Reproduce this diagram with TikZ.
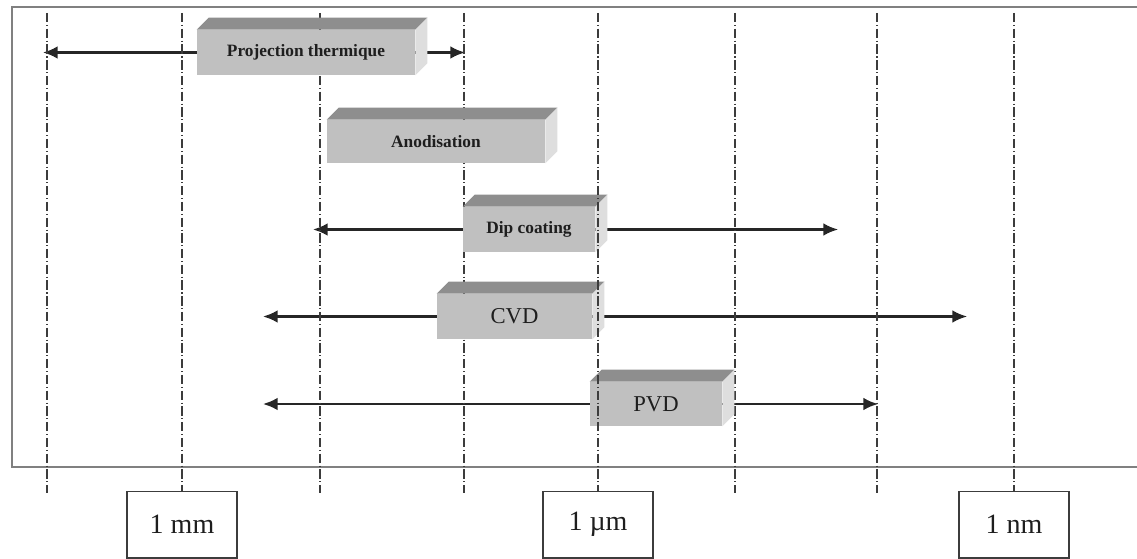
\documentclass[tikz,border=0pt]{standalone}
\usepackage{fontspec}
\setmainfont{Liberation Serif}
\usetikzlibrary{arrows.meta,backgrounds}

\definecolor{boxfront}{RGB}{192,192,192}
\definecolor{boxtop}{RGB}{142,142,142}
\definecolor{boxside}{RGB}{222,222,222}
\definecolor{linegray}{RGB}{60,60,60}
\definecolor{textgray}{RGB}{30,30,30}

\tikzset{
  procbox/.style={fill=boxfront, text=textgray, minimum height=33.75pt, inner sep=0pt,
    font=\bfseries\fontsize{13}{15}\selectfont},
  bigbox/.style={procbox, font=\fontsize{17}{20}\selectfont},
  scalebox/.style={draw=linegray, fill=white, line width=1pt, minimum width=82.5pt,
    minimum height=50pt, text=textgray, font=\fontsize{21}{24}\selectfont},
  gridline/.style={linegray, line width=1.1pt, dash pattern=on 7pt off 2pt on 0.8pt off 2pt},
  spanarrow/.style={black!85, line width=1.6pt, -{Latex[length=11pt,width=9.5pt]}},
}

\begin{document}
\begin{tikzpicture}[x=0.75pt,y=-0.75pt]
\useasboundingbox (0,0) rectangle (1137,559);

% frame
\draw[gray, line width=1.3pt] (1137,7) -- (12,7) -- (12,467) -- (1137,467);

% scale
\node[scalebox] (mm) at (182,524.5) {1 mm};
\node[scalebox] (um) at (598,524.5) {1 µm};
\node[scalebox] (nm) at (1014,524.5) {1 nm};

\foreach \x in {47,320,464,735,877}
  \draw[gridline] (\x,13) -- (\x,493);
\draw[gridline] (182,13) -- (mm.north);
\draw[gridline] (1014,13) -- (nm.north);

% processes
\node[procbox, minimum width=163.5pt] (proj) at (306,52.5) {Projection thermique};
\node[procbox, minimum width=163.5pt, minimum height=32.25pt] (anod) at (436,141.5) {Anodisation};
\node[procbox, minimum width=99pt] (dip) at (529,229.5) {Dip coating};
\node[bigbox, minimum width=116.25pt] (cvd) at (514.5,316.5) {CVD};
\node[bigbox, minimum width=99pt, minimum height=33pt] (pvd) at (656,404) {PVD};

\foreach \n in {proj,anod,dip,cvd,pvd} {
  \fill[boxtop] (\n.north west) -- ++(12,-12) -- ([shift={(12,-12)}]\n.north east)
    -- (\n.north east) -- cycle;
  \fill[boxside] (\n.north east) -- ++(12,-12) -- ([shift={(12,-12)}]\n.south east)
    -- (\n.south east) -- cycle;
}

\draw[gridline] (598,13) -- (um.north);

% ranges
\coordinate (proj-left) at (43,52.5);
\coordinate (proj-right) at (465,52.5);
\coordinate (dip-left) at (313,229.5);
\coordinate (dip-right) at (838,229.5);
\coordinate (cvd-left) at (263,316.5);
\coordinate (cvd-right) at (967,316.5);
\coordinate (pvd-left) at (263,404);
\coordinate (pvd-right) at (878,404);

\begin{scope}[on background layer]
  \foreach \n in {proj,dip,cvd,pvd} {
    \draw[spanarrow] (\n) -- (\n-left);
    \draw[spanarrow] (\n) -- (\n-right);
  }
\end{scope}
\end{tikzpicture}
\end{document}
